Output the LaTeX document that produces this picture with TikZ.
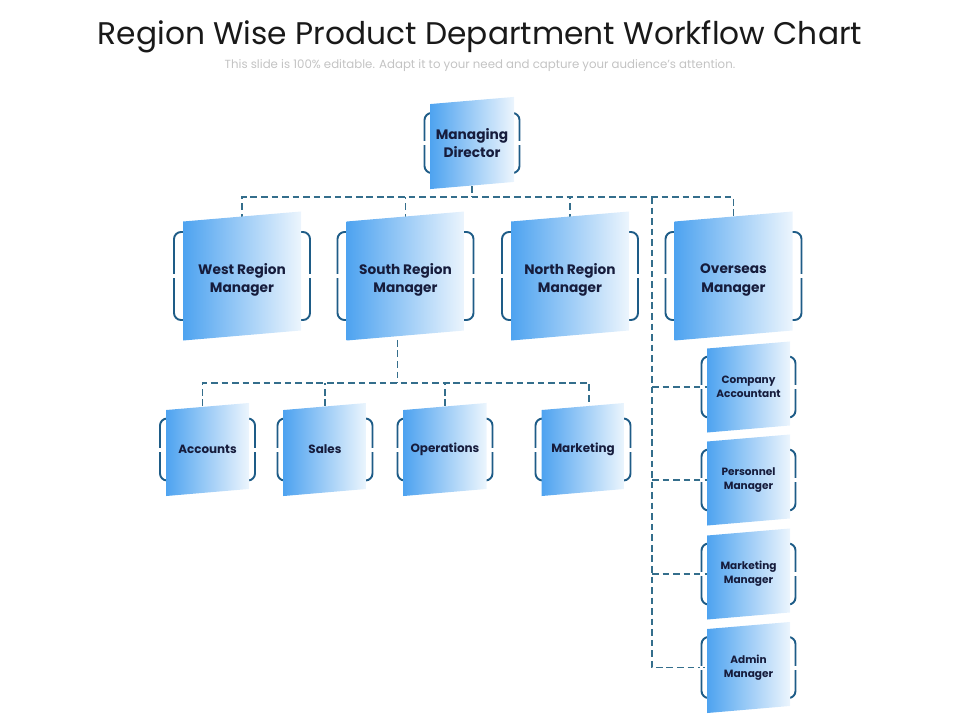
\documentclass[tikz,border=0pt]{standalone}
\usepackage{fontspec}
\setmainfont{Poppins}
\usetikzlibrary{backgrounds}
\definecolor{boxblue}{RGB}{78,163,240}
\definecolor{boxlight}{RGB}{236,245,253}
\definecolor{rimblue}{RGB}{30,92,135}
\definecolor{linkblue}{RGB}{52,110,140}
\definecolor{inkblue}{RGB}{22,28,60}
\definecolor{subgray}{RGB}{195,195,195}
\newcommand{\orgbox}[9]{%
  \draw[rim] ({#2-#6/2},{#3-#7/2}) rectangle ({#2+#6/2},{#3+#7/2});
  \draw[rimgap] ({#2-#6/2},{#3-2}) -- ({#2-#6/2},{#3+2});
  \draw[rimgap] ({#2+#6/2},{#3-2}) -- ({#2+#6/2},{#3+2});
  \shade[panel] ({#2-#4/2},{#3-#5/2+0.0425*#4}) -- ({#2+#4/2},{#3-#5/2-0.0425*#4})
    -- ({#2+#4/2},{#3+#5/2-0.0425*#4}) -- ({#2-#4/2},{#3+#5/2+0.0425*#4}) -- cycle;
  \node[#9, minimum width={#4*0.02cm}, minimum height={#5*0.02cm}] (#1) at (#2,#3) {#8};
}
\begin{document}
\begin{tikzpicture}[x=0.02cm, y=-0.02cm,
    rim/.style={draw=rimblue, line width=1.1pt, rounded corners=4pt},
    rimgap/.style={draw=white, line width=2pt},
    panel/.style={left color=boxblue, right color=boxlight},
    link/.style={draw=linkblue, line width=0.65pt, dash pattern=on 3.8pt off 2.2pt},
    bigtext/.style={font=\bfseries\fontsize{7.8}{10.6}\selectfont, text=inkblue, align=center, inner sep=0pt},
    regiontext/.style={bigtext, yshift=-2.3pt},
    midtext/.style={font=\bfseries\fontsize{6.8}{8.5}\selectfont, text=inkblue, align=center, inner sep=0pt},
    smalltext/.style={font=\bfseries\fontsize{6}{7.8}\selectfont, text=inkblue, align=center, inner sep=0pt}]
\useasboundingbox (0,0) rectangle (960,720);
\node[font=\fontsize{17.8}{21}\selectfont, text=black!90] (title) at (480,37) {Region Wise Product Department Workflow Chart};
\node[font=\fontsize{6.7}{8}\selectfont, text=subgray] (subtitle) at (480,66) {This slide is 100\% editable. Adapt it to your need and capture your audience's attention.};
\orgbox{director}{472}{143}{84}{85}{95}{60}{Managing\\Director}{bigtext}
\orgbox{westmgr}{242}{276}{118}{119}{136}{88}{West Region\\Manager}{regiontext}
\orgbox{southmgr}{405.5}{276}{118}{119}{136}{88}{South Region\\Manager}{regiontext}
\orgbox{northmgr}{570}{276}{118}{119}{136}{88}{North Region\\Manager}{regiontext}
\orgbox{overseasmgr}{733.5}{276}{118}{119}{136}{88}{Overseas\\Manager}{regiontext}
\orgbox{accounts}{207.5}{449.5}{83}{86}{95}{62}{Accounts}{midtext}
\orgbox{sales}{325}{449.5}{83}{86}{95}{62}{Sales}{midtext}
\orgbox{operations}{445}{449.5}{83}{86}{95}{62}{Operations}{midtext}
\orgbox{marketing}{583}{449.5}{83}{86}{95}{62}{Marketing}{midtext}
\orgbox{accountant}{748.5}{387}{83}{84}{94}{61}{Company\\Accountant}{smalltext}
\orgbox{personnel}{748.5}{480}{83}{84}{94}{61}{Personnel\\Manager}{smalltext}
\orgbox{mktmgr}{748.5}{574}{83}{84}{94}{61}{Marketing\\Manager}{smalltext}
\orgbox{admin}{748.5}{667.5}{83}{84}{94}{61}{Admin\\Manager}{smalltext}
\begin{scope}[on background layer]
\coordinate (topbus) at (0,197);
\coordinate (subbus) at (0,383);
\coordinate (trunk) at (652,0);
\draw[link] (director.south) -- (director.south |- topbus);
\draw[link] (westmgr.north) -- (westmgr.north |- topbus) -- (overseasmgr.north |- topbus) -- (overseasmgr.north);
\draw[link] (southmgr.north) -- (southmgr.north |- topbus);
\draw[link] (northmgr.north) -- (northmgr.north |- topbus);
\draw[link] (trunk |- topbus) -- (trunk |- admin.west) -- (admin.west);
\draw[link] (trunk |- accountant.west) -- (accountant.west);
\draw[link] (trunk |- personnel.west) -- (personnel.west);
\draw[link] (trunk |- mktmgr.west) -- (mktmgr.west);
\draw[link] ([xshift=-0.16cm]southmgr.south) -- ([xshift=-0.16cm]southmgr.south |- subbus);
\draw[link] ([xshift=-0.1cm]accounts.north) -- ([xshift=-0.1cm]accounts.north |- subbus) -- ([xshift=0.12cm]marketing.north |- subbus) -- ([xshift=0.12cm]marketing.north);
\draw[link] (sales.north) -- (sales.north |- subbus);
\draw[link] (operations.north) -- (operations.north |- subbus);
\end{scope}
\end{tikzpicture}
\end{document}
